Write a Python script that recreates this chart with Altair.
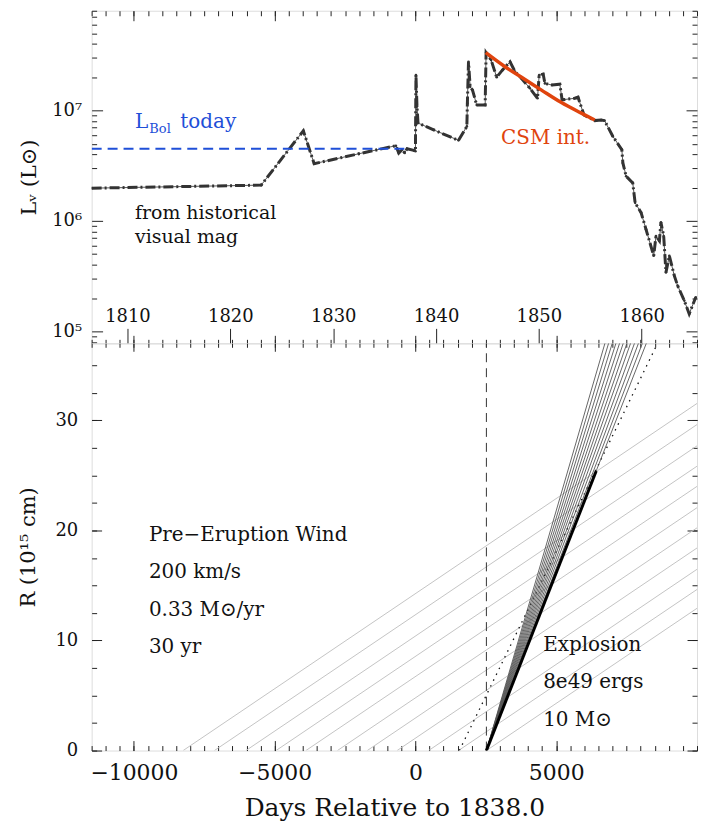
import altair as alt
import pandas as pd

# ---------------- data ----------------
# historical light curve of eta Car: year, L_V (Lsun)
lc_year = [1806.52, 1823.0, 1827.1, 1828.15, 1832.5, 1836.1, 1836.38, 1836.70, 1836.96,
           1837.19, 1837.84, 1838.0, 1838.05, 1838.15, 1838.25, 1839.77, 1842.19, 1843.0,
           1843.05, 1843.16, 1843.32, 1843.55, 1843.96, 1844.78, 1844.87, 1845.36, 1845.90,
           1846.45, 1847.2, 1847.68, 1848.32, 1849.13, 1849.87, 1850.03, 1850.42, 1850.59,
           1851.29, 1852.04, 1852.26, 1853.49, 1853.81, 1854.39, 1855.43, 1856.06, 1856.39,
           1857.2, 1858.07, 1858.17, 1858.49, 1859.13, 1859.36, 1859.94, 1860.42, 1861.17,
           1861.39, 1861.72, 1861.87, 1862.14, 1862.36, 1862.69, 1863.17, 1863.49, 1864.14,
           1864.62, 1865.26]
lc_lum = [1.98e6, 2.11e6, 6.55e6, 3.30e6, 4.06e6, 4.80e6, 4.12e6, 4.42e6, 4.12e6,
          4.51e6, 4.36e6, 4.28e6, 2.09e7, 1.09e7, 7.7e6, 6.68e6, 5.37e6, 7.18e6,
          1.16e7, 2.76e7, 1.64e7, 1.53e7, 1.12e7, 1.12e7, 3.34e7, 2.86e7, 2.0e7,
          2.32e7, 2.76e7, 2.25e7, 1.95e7, 1.59e7, 1.29e7, 2.09e7, 2.14e7, 1.76e7,
          1.70e7, 1.73e7, 1.25e7, 1.29e7, 1.32e7, 9.1e6, 8.1e6, 8.2e6, 8.1e6,
          5.83e6, 4.42e6, 3.35e6, 2.54e6, 2.21e6, 1.46e6, 1.19e6, 8.4e5, 4.84e5,
          7.3e5, 6.6e5, 9.7e5, 7.3e5, 3.42e5, 4.84e5, 3.2e5, 2.6e5, 1.9e5,
          1.44e5, 2.04e5]

# CSM interaction model curve
csm_year = [1844.84, 1846.71, 1848.32, 1850.26, 1852.19, 1854.13, 1855.43]
csm_lum = [3.34e7, 2.49e7, 2.0e7, 1.53e7, 1.18e7, 9.46e6, 8.2e6]

# present-day bolometric luminosity
lbol_year = [1806.52, 1837.35]
lbol_lum = [4.5e6, 4.5e6]

# bottom panel: days relative to 1838.0, radius in 1e15 cm
wind_t0_day = [-8250, -7140, -6020, -4950, -3890, -2770, -1710, -650, 470, 1530, 2520]
wind_kms = 200.0
expl_day = 2520
fan_top_day = [6730, 6860, 6990, 7120, 7250, 7380, 7510, 7640, 7780, 7920, 8060, 8200]
shock_day = [2520, 6420]
shock_r = [0.0, 25.4]
dotted_day = [1560, 8600]
dotted_r = [0.0, 37.0]

X_MIN, X_MAX = -11500, 10000
R_MAX = 37.0

# ---------------- tables ----------------
lc = pd.DataFrame({"year": lc_year, "L": lc_lum})
csm = pd.DataFrame({"year": csm_year, "L": csm_lum})
lbol = pd.DataFrame({"year": lbol_year, "L": lbol_lum})

to_r = wind_kms * 1e5 * 86400 / 1e15  # 1e15 cm per day
wind_rows = []
for i, t0 in enumerate(wind_t0_day):
    wind_rows.append({"id": i, "day": t0, "R": 0.0})
    wind_rows.append({"id": i, "day": X_MAX, "R": to_r * (X_MAX - t0)})
wind = pd.DataFrame(wind_rows)

fan_rows = []
for i, td in enumerate(fan_top_day):
    fan_rows.append({"id": i, "day": expl_day, "R": 0.0})
    fan_rows.append({"id": i, "day": td, "R": R_MAX})
fan = pd.DataFrame(fan_rows)

shock = pd.DataFrame({"day": shock_day, "R": shock_r})
dotted = pd.DataFrame({"day": dotted_day, "R": dotted_r})
vline = pd.DataFrame({"day": [expl_day, expl_day], "R": [0.0, R_MAX]})

# ---------------- scales / axes ----------------
W, H_TOP, H_BOT = 608, 334, 409
FONT = "DejaVu Serif"
INK = "#222222"

xs = alt.Scale(domain=[X_MIN, X_MAX], nice=False, zero=False)
ys_top = alt.Scale(type="log", domain=[7.8e4, 8e7], nice=False)
ys_bot = alt.Scale(domain=[0, R_MAX], nice=False, zero=False)

major_days = [-10000, -5000, 0, 5000]
minor_days = list(range(-11500, 10001, 500))
year_ticks = [1810, 1820, 1830, 1840, 1850, 1860]
year_days = [(y - 1838) * 365.25 for y in year_ticks]
log_major = [1e5, 1e6, 1e7]
log_minor = [k * 10 ** e for e in range(4, 8) for k in range(2, 10) if 7.8e4 <= k * 10 ** e <= 8e7]
r_major = [0, 10, 20, 30]
r_minor = [2.5 * k for k in range(0, 15)]


def ax(**kw):
    base = dict(grid=False, domain=False, labels=False, title=None, ticks=True,
                tickColor=INK, tickWidth=1)
    base.update(kw)
    return alt.Axis(**base)


day_expr = "(datum.year - 1838) * 365.25"

# ---------------- top panel ----------------
top_base = alt.Chart(lc).transform_calculate(day=day_expr)

thin = top_base.mark_line(color="#555555", strokeWidth=1, clip=True).encode(
    x=alt.X("day:Q", scale=xs, axis=ax(orient="top", offset=-H_TOP, tickSize=15, values=year_days,
                                          labels=True, labelFont=FONT, labelFontSize=18, labelColor="#111",
                                          labelPadding=3,
                                          labelExpr="format(1838 + datum.value / 365.25, '.0f')")),
    y=alt.Y("L:Q", scale=ys_top, axis=ax(orient="left", offset=-11, tickSize=11, values=log_major,
                                          labels=True, labelFont=FONT, labelFontSize=18, labelColor="#111",
                                          labelPadding=10,
                                          labelExpr="datum.value == 100000 ? '10⁵' : datum.value == 1000000 ? '10⁶' : '10⁷'",
                                          title="Lᵥ (L⊙)", titleFont=FONT, titleFontSize=21,
                                          titleFontWeight="normal", titleColor="#111", titlePadding=12)),
)

thick = top_base.mark_line(color="#333333", strokeWidth=3, strokeDash=[10, 3, 2, 3], clip=True).encode(
    x=alt.X("day:Q", scale=xs, axis=ax(orient="top", offset=-5, tickSize=5, values=minor_days)),
    y=alt.Y("L:Q", scale=ys_top, axis=ax(orient="left", offset=-5, tickSize=5, values=log_minor)),
)

pts = top_base.mark_circle(color="#333333", size=7, opacity=1, clip=True).encode(
    x=alt.X("day:Q", scale=xs, axis=ax(orient="top", offset=-10, tickSize=10, values=major_days)),
    y=alt.Y("L:Q", scale=ys_top, axis=ax(orient="right", offset=-11, tickSize=11, values=log_major)),
)

blue = alt.Chart(lbol).transform_calculate(day=day_expr).mark_line(
    color="#1f4fd8", strokeWidth=2, strokeDash=[10, 6], clip=True).encode(
    x=alt.X("day:Q", scale=xs, axis=ax(orient="top", offset=-H_TOP, tickSize=4, values=minor_days)),
    y=alt.Y("L:Q", scale=ys_top, axis=ax(orient="right", offset=-5, tickSize=5, values=log_minor)),
)

red = alt.Chart(csm).transform_calculate(day=day_expr).mark_line(
    color="#e0440e", strokeWidth=3.5, interpolate="monotone", clip=True).encode(
    x=alt.X("day:Q", scale=xs, axis=ax(orient="top", offset=-H_TOP, tickSize=8, values=major_days)),
    y=alt.Y("L:Q", scale=ys_top, axis=None),
)

top_text = pd.DataFrame([
    {"day": -9961, "L": 6.93e6, "t": "L", "c": "#1f4fd8", "s": 20},
    {"day": -9450, "L": 6.25e6, "t": "Bol", "c": "#1f4fd8", "s": 13},
    {"day": -8350, "L": 6.93e6, "t": "today", "c": "#1f4fd8", "s": 20},
    {"day": -9961, "L": 1.05e6, "t": "from historical", "c": "#111111", "s": 19},
    {"day": -9961, "L": 6.35e5, "t": "visual mag", "c": "#111111", "s": 19},
    {"day": 3041, "L": 5.0e6, "t": "CSM int.", "c": "#e0440e", "s": 20},
])
ttext = alt.Chart(top_text).mark_text(align="left", baseline="alphabetic", font=FONT).encode(
    x=alt.X("day:Q", scale=xs, axis=None),
    y=alt.Y("L:Q", scale=ys_top, axis=None),
    text="t:N",
    color=alt.Color("c:N", scale=None),
    size=alt.Size("s:Q", scale=None),
)

top = alt.layer(thin, thick, pts, blue, red, ttext).resolve_axis(
    x="independent", y="independent").properties(width=W, height=H_TOP)

# ---------------- bottom panel ----------------
windl = alt.Chart(wind).mark_line(color="#c4c4c4", strokeWidth=1, clip=True).encode(
    x=alt.X("day:Q", scale=xs, axis=ax(orient="bottom", offset=-10, tickSize=10, values=major_days,
                                          labels=True, labelFont=FONT, labelFontSize=22, labelColor="#111",
                                          labelPadding=12, format="d",
                                          title="Days Relative to 1838.0", titleFont=FONT, titleFontSize=25,
                                          titleFontWeight="normal", titleColor="#111", titlePadding=12)),
    y=alt.Y("R:Q", scale=ys_bot, axis=ax(orient="left", offset=-10, tickSize=10, values=r_major,
                                          labels=True, labelFont=FONT, labelFontSize=18, labelColor="#111",
                                          labelPadding=14,
                                          title="R (10¹⁵ cm)", titleFont=FONT, titleFontSize=21,
                                          titleFontWeight="normal", titleColor="#111", titlePadding=16)),
    detail="id:N",
)

vdash = alt.Chart(vline).mark_line(color="#333333", strokeWidth=1, strokeDash=[9, 6], clip=True).encode(
    x=alt.X("day:Q", scale=xs, axis=ax(orient="bottom", offset=-5, tickSize=5, values=minor_days)),
    y=alt.Y("R:Q", scale=ys_bot, axis=ax(orient="left", offset=-5, tickSize=5, values=r_minor)),
)

dot = alt.Chart(dotted).mark_line(color="#111111", strokeWidth=1.3, strokeDash=[1.5, 5], clip=True).encode(
    x=alt.X("day:Q", scale=xs, axis=ax(orient="bottom", offset=-H_BOT, tickSize=4, values=minor_days)),
    y=alt.Y("R:Q", scale=ys_bot, axis=ax(orient="right", offset=-10, tickSize=10, values=r_major)),
)

fanl = alt.Chart(fan).mark_line(color="#555555", strokeWidth=0.9, clip=True).encode(
    x=alt.X("day:Q", scale=xs, axis=ax(orient="bottom", offset=-H_BOT, tickSize=8, values=major_days)),
    y=alt.Y("R:Q", scale=ys_bot, axis=ax(orient="right", offset=-5, tickSize=5, values=r_minor)),
    detail="id:N",
)

shk = alt.Chart(shock).mark_line(color="#000000", strokeWidth=3, clip=True).encode(
    x=alt.X("day:Q", scale=xs, axis=None),
    y=alt.Y("R:Q", scale=ys_bot, axis=None),
)

bot_text = pd.DataFrame([
    {"day": -9466, "R": 19.02, "t": "Pre−Eruption Wind"},
    {"day": -9466, "R": 15.64, "t": "200 km/s"},
    {"day": -9466, "R": 12.19, "t": "0.33 M⊙/yr"},
    {"day": -9466, "R": 8.87, "t": "30 yr"},
    {"day": 4537, "R": 9.02, "t": "Explosion"},
    {"day": 4537, "R": 5.64, "t": "8e49 ergs"},
    {"day": 4537, "R": 2.25, "t": "10 M⊙"},
])
btext = alt.Chart(bot_text).mark_text(align="left", baseline="alphabetic", font=FONT,
                                      fontSize=20, color="#111111").encode(
    x=alt.X("day:Q", scale=xs, axis=None),
    y=alt.Y("R:Q", scale=ys_bot, axis=None),
    text="t:N",
)

bottom = alt.layer(windl, vdash, dot, fanl, shk, btext).resolve_axis(
    x="independent", y="independent").properties(width=W, height=H_BOT)

chart = alt.vconcat(top, bottom, spacing=0, bounds="flush").properties(
    padding={"left": 9, "top": 0, "right": 0, "bottom": 0}
).configure_view(stroke=INK, strokeWidth=1.2).configure(font=FONT)

chart.save("out.html", embed_options={"renderer": "svg", "actions": False})
